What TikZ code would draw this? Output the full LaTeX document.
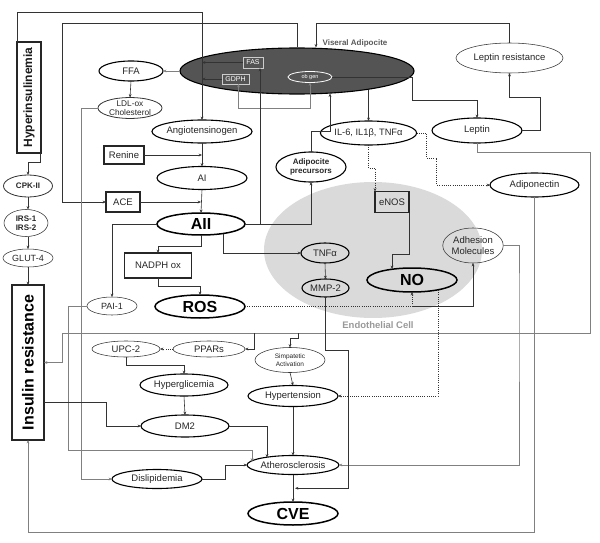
\documentclass[tikz,border=0pt]{standalone}
\usepackage{fontspec}
\setmainfont{Liberation Sans}
\usetikzlibrary{shapes.geometric,arrows.meta,calc}
\definecolor{adip}{gray}{0.33}
\definecolor{endo}{gray}{0.855}
\definecolor{ln}{gray}{0.2}
\definecolor{gln}{gray}{0.5}
\begin{document}
\begin{tikzpicture}[x=1pt,y=-1pt,
  >={Stealth[length=3.4pt,width=2.8pt]},
  base/.style={inner sep=0pt, outer sep=0pt, align=center, font=\fontsize{9.5}{10.5}\selectfont, text=black!85},
  el/.style={base, ellipse, draw=black, line width=1.1pt},
  elt/.style={base, ellipse, draw=black!80, line width=0.55pt},
  elh/.style={base, ellipse, draw=black, line width=1.5pt, font=\bfseries\fontsize{16}{17}\selectfont, text=black},
  bx/.style={base, rectangle, draw=black!85, line width=1.2pt},
  conn/.style={draw=ln, line width=0.6pt},
  gconn/.style={draw=gln, line width=0.75pt},
  dconn/.style={draw=ln, line width=0.7pt, dash pattern=on 0.9pt off 1.3pt},
]
\useasboundingbox (0,0) rectangle (600,543);

% background shapes
\node[ellipse, fill=endo, inner sep=0pt, minimum width=218pt, minimum height=136pt] (endo) at (373,250) {};
\node[font=\bfseries\fontsize{9.5}{10}\selectfont, text=black!40, inner sep=0pt] (endl) at (378,325) {Endothelial Cell};
\node[ellipse, fill=adip, draw=black, line width=1.1pt, inner sep=0pt, minimum width=234pt, minimum height=46pt] (va) at (297,71) {};
\node[font=\bfseries\fontsize{8}{9}\selectfont, text=black!65, inner sep=0pt] (val) at (355,43) {Viseral Adipocite};
\node[base, draw=white!80!black, line width=0.7pt, text=white, font=\fontsize{7}{8}\selectfont, minimum width=20pt, minimum height=11pt] (fas) at (253,62.5) {FAS};
\node[base, draw=white!80!black, line width=0.7pt, text=white, font=\fontsize{7}{8}\selectfont, minimum width=27pt, minimum height=10pt] (gdph) at (235.5,79) {GDPH};
\node[base, ellipse, draw=white, line width=0.8pt, text=white, font=\fontsize{5.5}{6}\selectfont, minimum width=44pt, minimum height=11pt] (ob) at (310,77) {ob gen};

% central column
\node[el, minimum width=64pt, minimum height=20pt] (ffa) at (131,71) {FFA};
\node[elt, line width=0.8pt, minimum width=64pt, minimum height=18pt, font=\fontsize{8.3}{9}\selectfont] (ldl) at (130,108) {LDL-ox\\Cholesterol};
\node[el, minimum width=90pt, minimum height=23pt] (ang) at (202,131.5) {Angiotensinogen};
\node[bx, minimum width=40pt, minimum height=18pt] (ren) at (124,155) {Renine};
\node[el, minimum width=90pt, minimum height=23pt] (ai) at (202,178) {AI};
\node[bx, minimum width=34pt, minimum height=20pt] (ace) at (123,202) {ACE};
\node[elh, minimum width=88pt, minimum height=22pt] (aii) at (201,224) {AII};
\node[bx, minimum width=67pt, minimum height=25pt] (nad) at (158,265.5) {NADPH ox};
\node[elt, minimum width=50pt, minimum height=18pt, font=\fontsize{9}{10}\selectfont] (pai) at (112,306) {PAI-1};
\node[elh, minimum width=90pt, minimum height=23pt] (ros) at (200,306.5) {ROS};
\node[el, minimum width=70pt, minimum height=30pt, font=\bfseries\fontsize{8}{9.5}\selectfont] (prec) at (311,167) {Adipocite\\precursors};
\node[el, minimum width=92pt, minimum height=24pt, font=\fontsize{9.3}{11}\selectfont] (il6) at (368.5,133) {IL-6, IL1β, TNFα};
\node[el, minimum width=90pt, minimum height=25pt] (lep) at (477,130.5) {Leptin};
\node[elt, minimum width=107pt, minimum height=30pt] (lr) at (509.5,58) {Leptin resistance};
\node[el, minimum width=89pt, minimum height=24pt] (adp) at (534.5,185) {Adiponectin};
\node[bx, line width=1.3pt, minimum width=34pt, minimum height=21pt] (enos) at (392,202) {eNOS};
\node[el, minimum width=48pt, minimum height=20pt] (tnf) at (325,253) {TNFα};
\node[el, minimum width=47pt, minimum height=18pt] (mmp) at (325.5,288) {MMP-2};
\node[elh, minimum width=90pt, minimum height=24pt] (no) at (412,280) {NO};
\node[elt, minimum width=54pt, minimum height=35pt] (adh) at (473,245.5) {Adhesion\\Molecules};
\node[elt, minimum width=68pt, minimum height=16pt] (upc) at (126,349) {UPC-2};
\node[elt, minimum width=72pt, minimum height=16pt] (ppar) at (209,349) {PPARs};
\node[elt, minimum width=70pt, minimum height=25pt, font=\fontsize{6.5}{7.5}\selectfont] (sim) at (290,360) {Simpatetic\\Activation};
\node[el, minimum width=88pt, minimum height=22pt] (hgl) at (184,385) {Hyperglicemia};
\node[el, minimum width=88pt, minimum height=22pt] (dm2) at (185,426) {DM2};
\node[el, minimum width=90pt, minimum height=21pt] (hyt) at (293,396) {Hypertension};
\node[el, minimum width=90pt, minimum height=19pt] (dis) at (157,479) {Dislipidemia};
\node[el, minimum width=90pt, minimum height=19pt] (ath) at (293,465) {Atherosclerosis};
\node[elh, minimum width=90pt, minimum height=23pt] (cve) at (293,513.5) {CVE};

% left column
\node[bx, line width=1.3pt, minimum width=24pt, minimum height=111pt] (hyp) at (29,97.5) {};
\node[rotate=90, inner sep=0pt, font=\bfseries\fontsize{12}{13}\selectfont, text=black!90] (hypt) at (hyp.center) {Hyperinsulinemia};
\node[elt, line width=0.8pt, minimum width=49pt, minimum height=22pt, font=\bfseries\fontsize{8}{9}\selectfont] (cpk) at (28,186) {CPK-II};
\node[elt, minimum width=44pt, minimum height=27pt, font=\bfseries\fontsize{8}{9}\selectfont] (irs) at (26,223) {IRS-1\\IRS-2};
\node[elt, minimum width=50pt, minimum height=18pt, font=\fontsize{9}{10}\selectfont] (glut) at (28,258) {GLUT-4};
\node[bx, line width=1.5pt, minimum width=32pt, minimum height=155pt] (ir) at (28,362.5) {};
\node[rotate=90, inner sep=0pt, font=\bfseries\fontsize{16}{17}\selectfont, text=black] (irt) at (ir.center) {Insulin resistance};

% coordinates for free bends
\coordinate (c62) at (62,23);
\coordinate (c316) at (316,23);
\coordinate (c412) at (412,100);
\coordinate (c540) at (540,97);
\coordinate (c590) at (590,152);
\coordinate (c62b) at (62,333);
\coordinate (b1) at (254,333);
\coordinate (b2) at (298,333);
\coordinate (c28) at (28,532);
\coordinate (c519) at (519,300);
\coordinate (c348) at (348,350);
\coordinate (cPAI) at (68,450);
\coordinate (cD) at (106,402);
\coordinate (acv) at ($(ath.south)!0.5!(cve.north)$);
\coordinate (aiiT) at ([xshift=22pt,yshift=1.5pt]aii.south);
\coordinate (cR) at (ros.east -| no.south);
\coordinate (noH) at ([xshift=26pt,yshift=2pt]no.south);

% top connectors
\draw[conn,->] (hyp.north west) -- ++(0,-30) -| (ang.north);
\draw[conn,->] (fas.west) -- (fas.west -| ang.north);
\draw[conn,->] (gdph.west) -- (gdph.west -| ang.north);
\draw[conn,->] (va.north) |- (c62) |- (ace.west);
\draw[conn,->] (lr.north) |- (c316) -- (c316 |- va.north);
\draw[conn,->] (ob.east) -| (c412) -| (lep.north);
\draw[conn,->] (lep.east) -| (c540) -| (lr.south);
\draw[gconn,->] (lep.south) |- (c590) |- (c62b) |- (ir.east);
\draw[conn,->] (b1) |- (ppar.east);
\draw[conn,->] (b2) -- ++(0,5) -| (sim.north);
\draw[gconn,->] (adp.south) |- (c28) -- (ir.south);
\draw[gconn,->] (adh.east) -| (c519) |- (ath.east);
\draw[conn,->] ([yshift=31pt]il6.north) -- (il6.north);
\draw[dconn,->] (il6.south) -- ++(0,23) -| (enos.north west);
\draw[dconn,->] (il6.east) -- ++(10,0) -- ++(0,25) -- ++(10,0) |- (adp.west);
\draw[conn,->] (enos.south east) -- ++(0,42) -| ([xshift=-20pt,yshift=-1pt]no.north);
\draw[gconn,<->] ([xshift=3pt]gdph.south) -- ++(0,24) -| (ob.south);
\draw[gconn,->] (va.west) -- (ffa.east);

% central column connectors
\draw[conn,->] (ffa.south) -- (ldl.north);
\draw[gconn,->] (ldl.west) -- ++(-17,0) |- (dis.west);
\draw[conn,->] (ren.east) -- (ren.east -| ang.south);
\draw[conn,->] (ang.south) -- (ai.north);
\draw[conn,->] (ai.south) -- (aii.north);
\draw[conn,->] (ace.east) -- (ace.east -| aii.north);
\draw[conn,->] (aiiT) |- (tnf.west);
\draw[conn,->] (tnf.south) -- (mmp.north);
\draw[conn,->] (mmp.south) |- (c348) |- ([xshift=2pt]acv);
\draw[conn,->] (aii.east) -| (prec.south);
\draw[conn,->] (aii.east) -| ([xshift=7pt]fas.south);
\draw[conn,->] (prec.north) -- ++(0,-21) -| ([xshift=33pt,yshift=1pt]va.south);
\draw[conn,->] (aii.west) -| (pai.north);
\draw[conn,->] (aii.south) -- ++(0,11) -| (nad.north);
\draw[conn,->] (nad.south) -- ++(0,8) -| (ros.north);
\draw[dconn] (ros.east) -- (cR);
\draw[dconn,->] (cR) -- (no.south);
\draw[conn,->] (cR) -| (adh.south);
\draw[dconn,->] (noH) |- (hyt.east);
\draw[gconn,->] (pai.west) -| (cPAI) -| ([xshift=-41pt,yshift=-6pt]ath.north);
\draw[conn,->] (dis.east) -- ++(23,0) |- (ath.west);
\draw[conn,->] (dm2.east) -| ([xshift=-26pt,yshift=-2pt]ath.north);
\draw[conn,->] (hyt.south) -- (ath.north);
\draw[conn,->] (ath.south) -- (cve.north);
\draw[conn,->] (hgl.south) -- (dm2.north);
\draw[conn,->] (upc.south) -- ++(0,8) -| (hgl.north);
\draw[dconn,->] (ppar.west) -- (upc.east);
\draw[conn,->] (sim.south) -- (hyt.north);
\draw[conn,->] (ir.east |- cD) -- (cD) |- (dm2.west);

% left column connectors
\draw[conn,->] ([xshift=-1pt]hyp.south east) -- ++(0,9) -| (cpk.north);
\draw[conn,->] (cpk.south) -- (irs.north -| cpk.south);
\draw[conn,->] (irs.south -| glut.north) -- (glut.north);
\draw[conn,->] (glut.south) -- (ir.north);
\end{tikzpicture}
\end{document}
